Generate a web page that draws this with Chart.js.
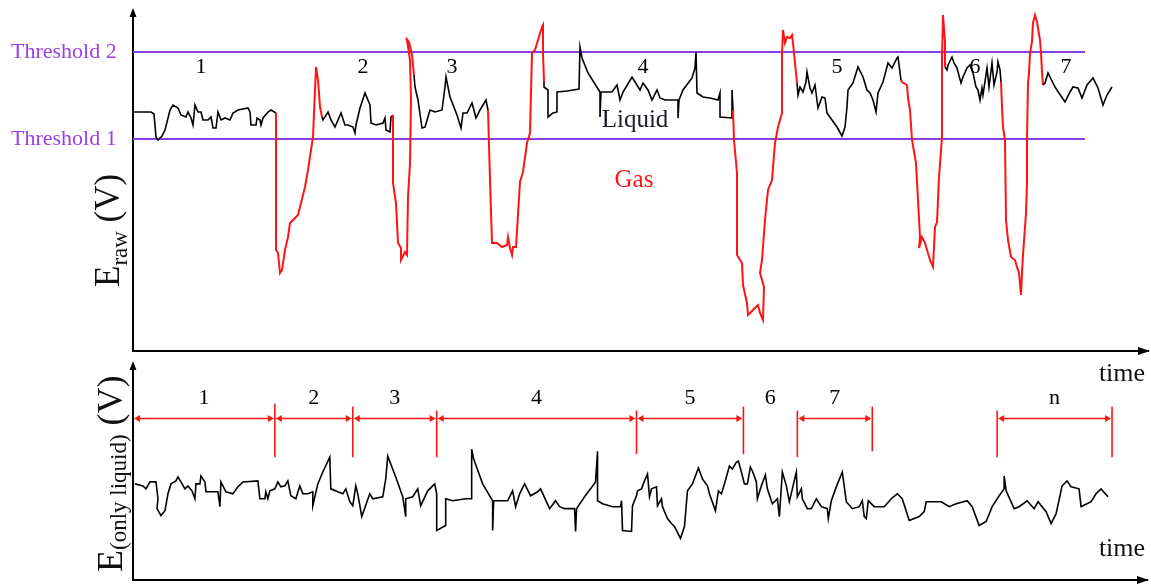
<!DOCTYPE html>
<html>
<head>
<meta charset="utf-8">
<title>E raw / E only liquid</title>
<script src="https://cdn.jsdelivr.net/npm/chart.js@4.4.1/dist/chart.umd.min.js"></script>
<style>
  body { margin: 0; background: #fff; }
  .panel { position: absolute; left: 0; width: 1151px; }
  #topBox { top: 0; height: 390px; }
  #botBox { top: 355px; height: 229px; }
</style>
</head>
<body>
<div class="panel" id="topBox"><canvas id="chartRaw"></canvas></div>
<div class="panel" id="botBox"><canvas id="chartLiquid"></canvas></div>
<script>
// ---- data (time, E) ----
const liquid1 = [[0,239],[18,239],[21,237],[23,214],[25,211],[29,215],[32,221],[37,241],[40,246],[45,243],[48,236],[53,234],[55,239],[58,233],[60,226],[62,246],[65,239],[68,239],[70,231],[75,231],[78,234],[80,223],[83,223],[85,239],[88,231],[92,233],[97,231],[100,238],[105,241],[115,243],[117,239],[118,226],[123,226],[124,233],[127,231],[128,226],[130,233],[135,239],[138,241],[143,238]];
const gas1 = [[143,101],[145,98],[147,78],[149,81],[152,101],[155,114],[157,128],[162,133],[165,136],[168,148],[172,164],[175,181],[178,201],[180,214],[181,238],[182,261],[183,284],[185,271],[187,244],[189,234]];
const liquid2 = [[190,231],[195,239],[198,231],[202,224],[205,231],[208,238],[212,226],[215,226],[220,224],[222,218],[223,226],[227,243],[232,258],[237,246],[238,228],[243,226],[250,228],[252,233],[253,221],[257,219],[258,234],[260,236]];
const gas2 = [[260,168],[263,148],[265,108],[268,103],[268,91],[272,99],[274,96],[275,154],[277,188],[278,251],[277,291],[274,311],[273,313],[276,309],[279,296],[281,276]];
const liquid3 = [[282,264],[285,251],[289,223],[292,224],[297,241],[302,239],[309,241],[312,264],[313,274],[317,254],[324,236],[328,223],[330,238],[334,238],[339,248],[343,233],[347,241],[353,251],[355,241]];
const gas3 = [[357,171],[359,108],[364,108],[369,104],[374,106],[375,114],[377,103],[379,96],[380,104],[383,104],[387,169],[390,179],[394,208],[397,218],[399,298],[402,301],[405,311],[409,324],[410,326],[410,298],[411,269]];
const liquid4 = [[411,264],[415,261],[415,234],[420,238],[424,239],[424,259],[434,260],[446,262],[447,304],[449,293],[455,278],[467,259],[467,234],[468,259],[479,259],[484,266],[487,251],[490,259],[499,274],[507,261],[510,268],[515,261],[519,251],[524,261],[527,253],[532,251],[545,251],[545,233],[546,251],[550,261],[559,273],[562,283],[563,299],[564,258],[570,254],[577,253],[585,251],[587,258],[587,234],[599,233],[599,261],[600,241]];
const gas4 = [[601,211],[604,178],[604,96],[609,88],[610,66],[614,48],[615,36],[620,41],[625,46],[627,38],[630,31],[631,64],[627,78],[629,91],[632,131],[635,161],[639,171],[642,208],[645,224],[649,238],[649,298],[650,321],[652,308],[654,314],[657,313],[659,316],[660,308],[662,288],[664,268]];
const liquid5 = [[665,256],[667,264],[670,259],[673,269],[674,279],[677,263],[679,258],[682,266],[685,243],[689,254],[692,253],[694,238],[699,231],[704,224],[709,215],[712,224],[714,244],[715,261],[720,268],[725,284],[730,274],[734,261],[737,258],[740,251],[743,239],[745,258],[750,269],[755,288],[759,283],[764,293],[765,294],[768,271]];
const gas5 = [[769,269],[774,266],[775,253],[777,241],[779,211],[783,188],[785,151],[787,114],[786,103],[789,114],[792,108],[797,91],[800,84],[802,124],[804,129],[806,174],[809,214],[809,294],[810,336],[812,309],[812,284]];
const liquid6 = [[814,281],[815,286],[819,294],[821,288],[824,283],[828,268],[830,274],[834,283],[837,286],[840,278],[843,264],[845,261],[847,251],[849,263],[850,256],[854,283],[856,264],[859,288],[861,266],[864,279],[865,289],[867,281],[868,269]];
const gas6 = [[869,244],[870,224],[872,211],[873,131],[875,111],[878,94],[882,91],[884,84],[886,78],[888,56],[889,78],[890,96],[893,138],[894,168],[894,213],[895,268],[896,278],[897,298],[899,309],[900,328],[902,336],[904,329],[907,311],[908,298],[909,279],[910,266]];
const liquid7 = [[912,268],[915,278],[922,264],[932,249],[937,259],[940,264],[945,263],[949,253],[954,266],[960,273],[965,263],[970,246],[974,256],[979,264]];

const rawRuns = [[liquid1,'liquid'],[gas1,'gas'],[liquid2,'liquid'],[gas2,'gas'],[liquid3,'liquid'],[gas3,'gas'],[liquid4,'liquid'],[gas4,'gas'],[liquid5,'liquid'],[gas5,'gas'],[liquid6,'liquid'],[gas6,'gas'],[liquid7,'liquid']];

const threshold1 = 212;
const threshold2 = 299;
const thresholdEnd = 952;

const rawRunLabels = ['1','2','3','4','5','6','7'];
const rawRunLabelTime = [68, 230, 319, 510, 704, 842, 933];

// liquid-only signal
const liquidOnly = [[2,97],[10,95],[13,92],[17,99],[23,99],[25,82],[24,72],[28,65],[32,70],[35,87],[38,97],[43,100],[45,104],[48,99],[52,92],[55,95],[59,90],[62,82],[63,97],[67,97],[68,105],[72,99],[73,89],[80,89],[85,89],[87,74],[88,99],[93,89],[100,87],[105,94],[110,99],[125,100],[127,82],[132,82],[133,89],[135,82],[137,90],[142,92],[145,99],[148,94],[152,95],[155,100],[158,85],[163,82],[167,95],[170,87],[175,87],[180,89],[180,75],[185,97],[190,109],[197,124],[198,92],[205,89],[210,87],[213,92],[217,79],[220,75],[223,95],[225,87],[229,64],[237,87],[240,82],[250,84],[253,102],[255,125],[258,117],[263,104],[270,84],[273,64],[273,82],[280,84],[285,92],[288,75],[295,90],[302,97],[304,87],[304,50],[313,55],[313,82],[320,80],[333,82],[339,82],[339,132],[341,122],[350,97],[360,80],[360,50],[361,80],[375,80],[380,90],[383,74],[387,87],[392,97],[398,85],[405,89],[408,92],[417,72],[423,80],[427,74],[432,72],[442,72],[443,49],[444,72],[452,84],[458,92],[463,99],[465,130],[465,80],[470,77],[480,74],[488,74],[489,80],[490,50],[499,49],[500,75],[504,85],[505,90],[509,92],[512,100],[515,107],[517,84],[519,92],[524,94],[525,75],[529,82],[530,74],[535,62],[539,57],[542,54],[548,42],[552,54],[555,90],[560,97],[566,113],[570,102],[575,95],[577,87],[583,70],[586,90],[589,87],[592,97],[597,115],[600,112],[604,119],[606,120],[609,109],[612,97],[615,97],[618,114],[620,110],[624,99],[625,82],[629,95],[633,106],[635,92],[640,77],[645,82],[647,64],[650,109],[654,95],[657,79],[660,92],[664,109],[665,84],[669,92],[670,82],[675,72],[679,72],[684,82],[689,74],[695,72],[696,62],[699,80],[704,94],[710,109],[714,79],[720,72],[727,74],[730,80],[732,64],[734,62],[736,80],[742,74],[752,74],[759,82],[765,87],[770,82],[777,60],[787,64],[792,69],[794,79],[809,79],[817,74],[824,77],[835,80],[840,74],[847,55],[854,59],[860,74],[867,85],[872,92],[872,105],[874,90],[882,72],[887,74],[895,80],[902,72],[906,79],[914,69],[919,57],[924,67],[930,95],[935,100],[939,94],[947,92],[949,74],[959,79],[964,87],[969,92],[976,84]];

// liquid intervals
const intervalLabels = ['1','2','3','4','5','6','7','n'];
const intervalStart = [0, 142, 220, 304, 504, 611, 665, 865];
const intervalEnd = [142, 220, 304, 504, 611, 665, 740, 980];
const intervalArrow = [true, true, true, true, true, false, true, true];
const boundaryTime = [142, 220, 304, 504, 611, 665, 740, 865, 980];
const boundaryHigh = [178, 175, 171, 171, 175, 171, 175, 171, 175];
const boundaryLow = [124, 124, 124, 127, 127, 124, 130, 124, 124];

const RED = '#ff1414';
const PURPLE = '#8a3ee6';
const SERIF = '"Liberation Serif", "Times New Roman", serif';

// ---- helpers ----
function axes(xMax, yMax) {
  const common = {
    type: 'linear',
    grid: { display: false, drawTicks: false },
    ticks: { display: false },
    border: { display: true, color: '#000', width: 2 }
  };
  return {
    x: Object.assign({}, common, { min: 0, max: xMax }),
    y: Object.assign({}, common, { min: 0, max: yMax })
  };
}

const axisArrows = {
  id: 'axisArrows',
  afterDraw(chart) {
    const { ctx, chartArea: a } = chart;
    ctx.save();
    ctx.fillStyle = '#000';
    ctx.beginPath();
    ctx.moveTo(a.left, a.top - 4);
    ctx.lineTo(a.left - 3.5, a.top + 5);
    ctx.lineTo(a.left + 3.5, a.top + 5);
    ctx.fill();
    ctx.beginPath();
    ctx.moveTo(a.right + 2, a.bottom);
    ctx.lineTo(a.right - 10, a.bottom - 4);
    ctx.lineTo(a.right - 10, a.bottom + 4);
    ctx.fill();
    ctx.restore();
  }
};

function axisTitle(ctx, px, py, parts) {
  ctx.save();
  ctx.translate(px, py);
  ctx.rotate(-Math.PI / 2);
  ctx.textAlign = 'left';
  ctx.textBaseline = 'alphabetic';
  ctx.fillStyle = '#111';
  let cx = 0;
  parts.forEach(([txt, size, dy]) => {
    ctx.font = size + 'px ' + SERIF;
    ctx.fillText(txt, cx, dy);
    cx += ctx.measureText(txt).width;
  });
  ctx.restore();
}

// ---- top chart: E_raw ----
const rawPoints = [];
const rawPhase = [];
rawRuns.forEach(([pts, phase]) => pts.forEach(([t, e]) => {
  rawPoints.push({ x: t, y: e });
  rawPhase.push(phase);
}));

const rawText = {
  id: 'rawText',
  afterDatasetsDraw(chart) {
    const { ctx, scales: { x, y } } = chart;
    ctx.save();
    ctx.textAlign = 'center';
    ctx.textBaseline = 'middle';
    ctx.fillStyle = '#000';
    ctx.font = '22px ' + SERIF;
    rawRunLabels.forEach((s, i) => ctx.fillText(s, x.getPixelForValue(rawRunLabelTime[i]), y.getPixelForValue(284)));

    ctx.font = '25px ' + SERIF;
    ctx.fillStyle = '#1a1a2a';
    ctx.fillText('Liquid', x.getPixelForValue(502), y.getPixelForValue(231));
    ctx.fillStyle = RED;
    ctx.fillText('Gas', x.getPixelForValue(501), y.getPixelForValue(171));

    ctx.textAlign = 'left';
    ctx.fillStyle = '#9a3ee6';
    ctx.font = '22px ' + SERIF;
    ctx.fillText('Threshold 2', 11, y.getPixelForValue(threshold2));
    ctx.fillText('Threshold 1', 11, y.getPixelForValue(threshold1));

    ctx.fillStyle = '#111';
    ctx.textAlign = 'center';
    ctx.font = '26px ' + SERIF;
    ctx.fillText('time', 1122, 374);
    ctx.restore();

    axisTitle(ctx, 119, 287, [['E', 35, 0], ['raw', 23, 8], [' (V)', 35, 0]]);
  }
};

new Chart(document.getElementById('chartRaw'), {
  type: 'line',
  data: {
    datasets: [
      {
        label: 'E raw',
        data: rawPoints,
        borderColor: '#000',
        borderWidth: 1.6,
        pointRadius: 0,
        tension: 0,
        segment: {
          borderColor: c => rawPhase[c.p1DataIndex] === 'gas' ? RED : '#000',
          borderWidth: c => rawPhase[c.p1DataIndex] === 'gas' ? 2 : 1.6
        }
      },
      {
        label: 'Threshold 2',
        data: [{ x: 0, y: threshold2 }, { x: thresholdEnd, y: threshold2 }],
        borderColor: PURPLE, borderWidth: 2.2, pointRadius: 0
      },
      {
        label: 'Threshold 1',
        data: [{ x: 0, y: threshold1 }, { x: thresholdEnd, y: threshold1 }],
        borderColor: PURPLE, borderWidth: 2.2, pointRadius: 0
      }
    ]
  },
  options: {
    responsive: true,
    maintainAspectRatio: false,
    animation: false,
    layout: { padding: { left: 133, right: 3, top: 12, bottom: 39 } },
    plugins: { legend: { display: false }, tooltip: { enabled: false } },
    scales: axes(1015, 339)
  },
  plugins: [axisArrows, rawText]
});

// ---- bottom chart: E only liquid ----
const ARROW_E = 163;
const LABEL_E = 183;

const markerSets = boundaryTime.map((t, i) => ({
  data: [{ x: t, y: boundaryLow[i] }, { x: t, y: boundaryHigh[i] }],
  borderColor: RED, borderWidth: 1.6, pointRadius: 0
}));
const arrowSets = intervalStart.map((s, i) => intervalArrow[i] ? {
  data: [{ x: s + 5, y: ARROW_E }, { x: intervalEnd[i] - 5, y: ARROW_E }],
  borderColor: RED, borderWidth: 1.6,
  pointStyle: 'triangle', pointRadius: 4, pointBorderWidth: 0,
  pointBackgroundColor: RED,
  pointRotation: c => c.dataIndex === 0 ? 270 : 90
} : null).filter(Boolean);

const liquidText = {
  id: 'liquidText',
  afterDatasetsDraw(chart) {
    const { ctx, scales: { x, y } } = chart;
    ctx.save();
    ctx.textAlign = 'center';
    ctx.textBaseline = 'middle';
    ctx.fillStyle = '#000';
    ctx.font = '22px ' + SERIF;
    intervalLabels.forEach((s, i) => {
      const mid = (intervalStart[i] + intervalEnd[i]) / 2;
      ctx.fillText(s, x.getPixelForValue(mid), y.getPixelForValue(LABEL_E));
    });
    ctx.fillStyle = '#111';
    ctx.font = '26px ' + SERIF;
    ctx.fillText('time', 1122, 194);
    ctx.restore();

    axisTitle(ctx, 122, 217, [['E', 36, 0], ['(only liquid)', 23, 4], [' (V)', 36, 0]]);
  }
};

new Chart(document.getElementById('chartLiquid'), {
  type: 'line',
  data: {
    datasets: [
      {
        label: 'E only liquid',
        data: liquidOnly.map(([t, e]) => ({ x: t, y: e })),
        borderColor: '#000', borderWidth: 1.6, pointRadius: 0, tension: 0
      }
    ].concat(markerSets, arrowSets)
  },
  options: {
    responsive: true,
    maintainAspectRatio: false,
    animation: false,
    layout: { padding: { left: 133, right: 3, top: 10, bottom: 2 } },
    plugins: { legend: { display: false }, tooltip: { enabled: false } },
    scales: axes(1015, 217)
  },
  plugins: [axisArrows, liquidText]
});
</script>
</body>
</html>
